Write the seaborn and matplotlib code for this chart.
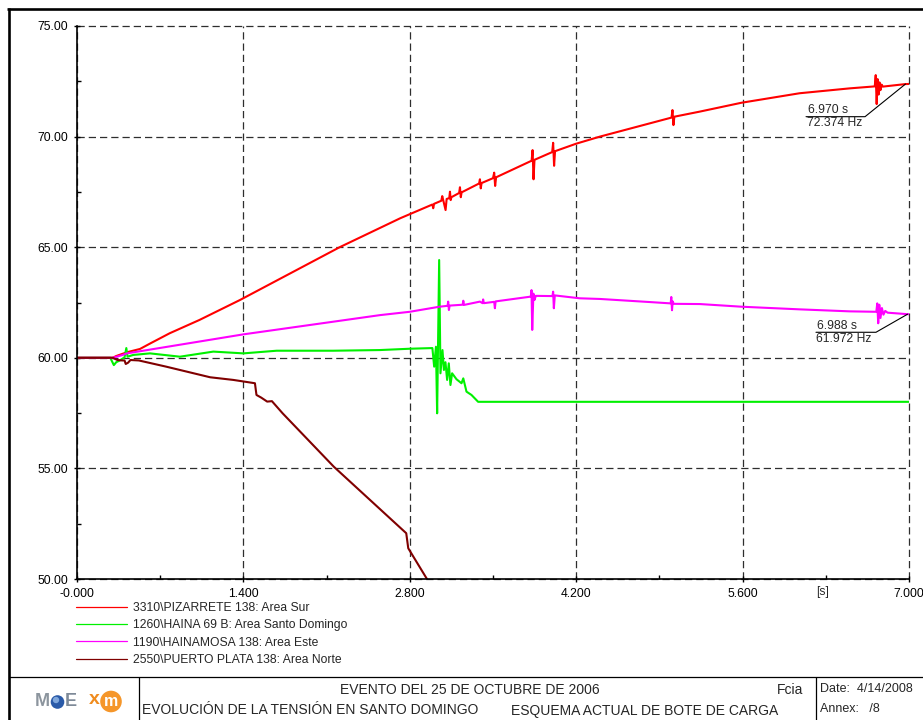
import numpy as np
import pandas as pd
import matplotlib
matplotlib.use("Agg")
import matplotlib.pyplot as plt
from matplotlib.lines import Line2D
from matplotlib.patches import Circle
from matplotlib.transforms import IdentityTransform
import seaborn as sns

# ---------------------------------------------------------------------------
# Bus frequencies [Hz] after the 25 Oct 2006 event, time in seconds
# ---------------------------------------------------------------------------
pizarrete_t = [0.00, 0.30, 0.33, 0.42, 0.53, 0.62, 0.78, 1.03, 1.37, 2.21, 2.72,
               2.990, 2.997, 3.004, 3.065, 3.073, 3.101, 3.110, 3.132, 3.138,
               3.144, 3.150, 3.215, 3.222, 3.229, 3.236, 3.383, 3.390, 3.397,
               3.404, 3.500, 3.510, 3.518, 3.526, 3.825, 3.833, 3.841, 3.849,
               3.998, 4.006, 4.014, 4.022, 4.20, 4.40, 4.82, 5.002, 5.010,
               5.018, 5.026, 5.24, 5.59, 6.08, 6.50, 6.712, 6.720, 6.728,
               6.736, 6.744, 6.752, 6.760, 6.770, 6.780, 6.97, 7.00]
pizarrete_f = [60.00, 60.00, 60.08, 60.25, 60.40, 60.66, 61.11, 61.71, 62.61, 65.00, 66.31,
               66.93, 66.76, 66.96, 67.10, 67.31, 66.68, 67.18, 67.22, 67.51,
               67.13, 67.26, 67.45, 67.71, 67.26, 67.48, 67.88, 68.07, 67.66,
               67.90, 68.12, 68.37, 67.77, 68.16, 68.91, 69.39, 68.07, 68.95,
               69.30, 69.72, 68.68, 69.34, 69.68, 70.00, 70.60, 70.86, 71.20,
               70.52, 70.90, 71.13, 71.53, 71.96, 72.18, 72.27, 72.78, 71.47,
               72.60, 71.90, 72.45, 72.10, 72.35, 72.26, 72.374, 72.38]

haina_t = [0.00, 0.28, 0.30, 0.31, 0.33, 0.36, 0.40, 0.415, 0.425, 0.474, 0.614,
           0.866, 1.147, 1.40, 1.68, 2.156, 2.548, 2.80, 2.99, 3.005, 3.020,
           3.030, 3.047, 3.058, 3.075, 3.087, 3.100, 3.114, 3.128, 3.142, 3.156,
           3.193, 3.235, 3.250, 3.277, 3.319, 3.375, 7.00]
haina_f = [60.00, 60.00, 59.78, 59.67, 59.80, 59.88, 60.02, 60.44, 60.05, 60.13, 60.20,
           60.05, 60.28, 60.20, 60.32, 60.32, 60.35, 60.41, 60.44, 59.60, 60.50,
           57.49, 64.42, 59.30, 60.35, 59.45, 59.80, 59.00, 59.75, 58.77, 59.30,
           59.03, 58.85, 59.07, 58.47, 58.32, 58.01, 58.01]

hainamosa_t = [0.00, 0.30, 0.32, 0.38, 0.42, 1.40, 2.55, 2.80, 3.05, 3.118, 3.123,
               3.129, 3.135, 3.245, 3.250, 3.256, 3.39, 3.412, 3.417, 3.423,
               3.510, 3.516, 3.522, 3.81, 3.818, 3.824, 3.830, 3.840, 3.850,
               3.860, 4.000, 4.006, 4.012, 4.020, 4.23, 4.40, 4.82, 4.995,
               5.000, 5.006, 5.012, 5.020, 5.24, 5.59, 6.08, 6.50, 6.725, 6.733,
               6.741, 6.750, 6.760, 6.772, 6.785, 6.800, 6.820, 6.988, 7.00]
hainamosa_f = [60.00, 60.00, 60.03, 60.12, 60.20, 61.06, 61.93, 62.08, 62.31, 62.35, 62.54,
               62.16, 62.36, 62.40, 62.58, 62.39, 62.54, 62.47, 62.64, 62.47,
               62.53, 62.24, 62.55, 62.76, 62.76, 63.06, 61.26, 62.90, 62.62,
               62.80, 62.79, 62.99, 62.24, 62.82, 62.69, 62.66, 62.52, 62.46,
               62.75, 62.15, 62.55, 62.44, 62.43, 62.31, 62.19, 62.10, 62.08, 62.46,
               61.56, 62.40, 61.80, 62.25, 61.95, 62.12, 62.04, 61.972, 61.97]

puerto_t = [0.00, 0.30, 0.34, 0.38, 0.40, 0.41, 0.43, 0.45, 0.52, 0.75, 1.12,
            1.315, 1.497, 1.510, 1.55, 1.60, 1.64, 1.73, 2.16, 2.77, 2.787,
            2.941, 2.97]
puerto_f = [60.00, 60.00, 59.90, 59.88, 59.88, 59.72, 59.78, 59.90, 59.88, 59.60, 59.12,
            59.00, 58.85, 58.32, 58.20, 58.02, 58.04, 57.49, 55.08, 52.07, 51.39,
            50.03, 49.77]

series_names = ["3310\\PIZARRETE 138: Area Sur",
                "1260\\HAINA 69 B: Area Santo Domingo",
                "1190\\HAINAMOSA 138: Area Este",
                "2550\\PUERTO PLATA 138: Area Norte"]
series_colors = ["#ff0000", "#00f000", "#ff00ff", "#800000"]
series_t = [pizarrete_t, haina_t, hainamosa_t, puerto_t]
series_f = [pizarrete_f, haina_f, hainamosa_f, puerto_f]

x_ticks = [0.0, 1.4, 2.8, 4.2, 5.6, 7.0]
x_tick_labels = ["-0.000", "1.400", "2.800", "4.200", "5.600", "7.000"]
x_minor = [0.7, 2.1, 3.5, 4.9, 6.3]
y_ticks = [50, 55, 60, 65, 70, 75]
y_tick_labels = ["50.00", "55.00", "60.00", "65.00", "70.00", "75.00"]
y_minor = [52.5, 57.5, 62.5, 67.5, 72.5]

# cursor read-outs (time, value, text lines)
cursors = [(6.970, 72.374, "6.970 s", "72.374 Hz"),
           (6.988, 61.972, "6.988 s", "61.972 Hz")]

# ---------------------------------------------------------------------------
sns.set_style("white")
plt.rcParams["font.family"] = ["Liberation Sans", "DejaVu Sans"]

W, H = 923, 720
fig = plt.figure(figsize=(W / 100, H / 100), dpi=100)


def fx(px):
    return px / W


def fy(py):
    return 1 - py / H


ax = fig.add_axes([fx(77), fy(579), fx(909) - fx(77), fy(26) - fy(579)])

df = pd.concat(
    [pd.DataFrame({"t": t, "f": f, "series": n})
     for n, t, f in zip(series_names, series_t, series_f)],
    ignore_index=True)

sns.lineplot(data=df, x="t", y="f", hue="series", hue_order=series_names,
             palette=dict(zip(series_names, series_colors)),
             estimator=None, sort=False, linewidth=1.5, legend=False, ax=ax)

ax.set_xlim(0, 7)
ax.set_ylim(50, 75)
ax.set_xticks(x_ticks)
ax.set_xticklabels(x_tick_labels)
ax.set_xticks(x_minor, minor=True)
ax.set_yticks(y_ticks)
ax.set_yticklabels(y_tick_labels)
ax.set_yticks(y_minor, minor=True)
ax.set_xlabel("")
ax.set_ylabel("")

ax.tick_params(axis="both", which="major", direction="inout", length=4, width=1,
               color="black", labelsize=8.7, labelcolor="black", pad=4.2)
ax.tick_params(axis="both", which="minor", direction="in", length=3, width=1,
               color="black")
ax.tick_params(axis="x", which="both", bottom=True)
ax.tick_params(axis="y", which="both", left=True)

ax.grid(True, which="major", color="#2e2e2e", linestyle=(0, (5.8, 3.2)),
        linewidth=0.9)
for gl in ax.get_xgridlines() + ax.get_ygridlines():
    gl.set_clip_on(False)
ax.set_axisbelow(True)

for side in ("top", "right"):
    ax.spines[side].set_visible(False)
for side in ("left", "bottom"):
    ax.spines[side].set_color("black")
    ax.spines[side].set_linewidth(1.2)

fig.text(fx(823), fy(592), "[s]", ha="center", va="center", fontsize=8.7)

# cursor call-outs
fig.canvas.draw()
callout_geom = [(-40.4, 32.6, -99.4), (-31.6, 18.1, -91.6)]
for (ct, cf, l1, l2), (ex, ey, endx) in zip(cursors, callout_geom):
    px, py = ax.transData.transform((ct, cf))
    fig.add_artist(Line2D([px, px + ex, px + endx], [py, py - ey, py - ey],
                          color="black", linewidth=0.8,
                          transform=IdentityTransform()))
    fig.text(px + endx + 1.5, py - ey + 6.5, l1, transform=IdentityTransform(),
             ha="left", va="center", fontsize=8.7)
    fig.text(px + endx + 0.5, py - ey - 6.5, l2, transform=IdentityTransform(),
             ha="left", va="center", fontsize=8.7)

# legend below the plot
handles = [Line2D([], [], color=c, linewidth=0.9) for c in series_colors]
fig.legend(handles, series_names, loc="upper left",
           bbox_to_anchor=(fx(76), fy(602)), frameon=False, fontsize=8.7,
           handlelength=4.2, handletextpad=0.5, labelspacing=0.44,
           borderpad=0, borderaxespad=0)

# page frame and title block
def fline(xs, ys, lw):
    fig.add_artist(Line2D([fx(v) for v in xs], [fy(v) for v in ys],
                          color="black", linewidth=lw,
                          transform=fig.transFigure, solid_capstyle="butt"))


fline([8.7, 8.7], [7.5, 720], 1.9)
fline([7.5, 923], [8.7, 8.7], 1.9)
fline([8.7, 923], [676.7, 676.7], 0.9)
fline([138.5, 138.5], [676.7, 720], 0.9)
fline([815.7, 815.7], [676.7, 720], 0.9)

fig.text(fx(470), fy(689.5), "EVENTO DEL 25 DE OCTUBRE DE 2006",
         ha="center", va="center", fontsize=10)
fig.text(fx(803), fy(689.5), "Fcia", ha="right", va="center", fontsize=10)
fig.text(fx(141.5), fy(710.5), "EVOLUCIÓN DE LA TENSIÓN EN SANTO DOMINGO",
         ha="left", va="center", fontsize=10)
fig.text(fx(511), fy(710.5), "ESQUEMA ACTUAL DE BOTE DE CARGA",
         ha="left", va="center", fontsize=10)
fig.text(fx(820.5), fy(689.5), "Date:  4/14/2008", ha="left", va="center",
         fontsize=9)
fig.text(fx(820.5), fy(709.5), "Annex:   /8", ha="left", va="center",
         fontsize=9)

# logos
fig.text(fx(35), fy(701), "M", ha="left", va="center", fontsize=13,
         color="#8c959e", fontweight="bold")
fig.add_artist(Circle((57.5, H - 702), 6.8, transform=IdentityTransform(),
                      facecolor="#2a5aa8", edgecolor="none"))
fig.add_artist(Circle((56, H - 700), 3.2, transform=IdentityTransform(),
                      facecolor="#7fa7dc", edgecolor="none"))
fig.text(fx(65), fy(701), "E", ha="left", va="center", fontsize=13,
         color="#7e8a98", fontweight="bold")
fig.text(fx(89), fy(700), "x", ha="left", va="center", fontsize=14,
         color="#f08c1e", fontweight="bold")
fig.add_artist(Circle((111, H - 701.5), 10.8, transform=IdentityTransform(),
                      facecolor="#f5962a", edgecolor="none"))
fig.text(fx(111), fy(702), "m", ha="center", va="center", fontsize=11.5,
         color="white", fontweight="bold")

fig.savefig("out.png", dpi=100)
